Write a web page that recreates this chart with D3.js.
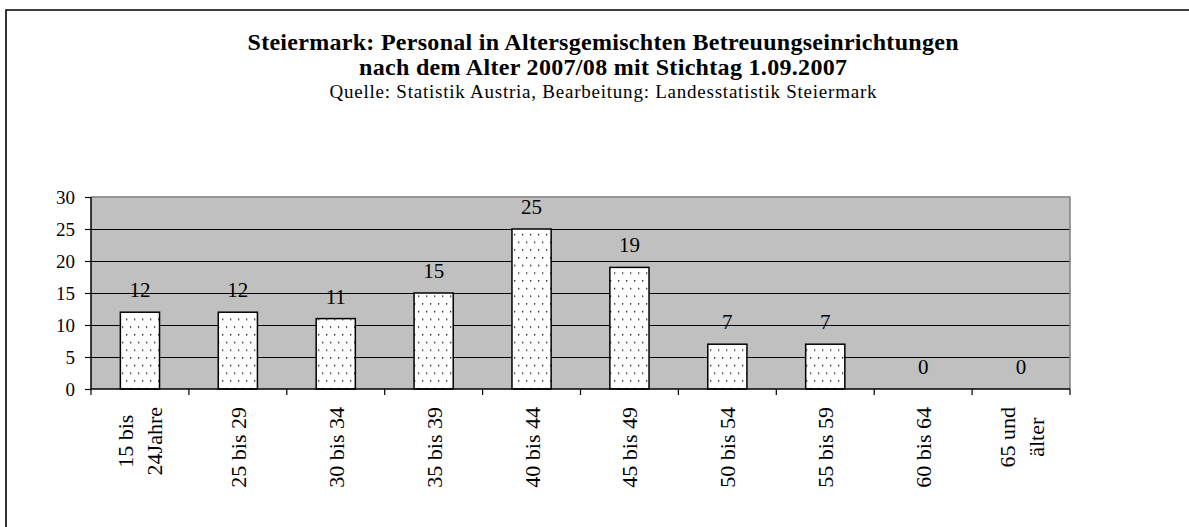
<!DOCTYPE html>
<html>
<head>
<meta charset="utf-8">
<script src="https://cdn.jsdelivr.net/npm/d3@7"></script>
<style>
  body { margin: 0; background: #fff; overflow: hidden; }
  svg text { font-family: "Liberation Serif", "Times New Roman", Times, serif; fill: #000; }
</style>
</head>
<body>
<div id="chart"></div>
<script>
// data
let categories = ["15 bis\n24Jahre", "25 bis 29", "30 bis 34", "35 bis 39", "40 bis 44",
                  "45 bis 49", "50 bis 54", "55 bis 59", "60 bis 64", "65 und\nälter"]
let values = [12, 12, 11, 15, 25, 19, 7, 7, 0, 0]
let yTicks = [0, 5, 10, 15, 20, 25, 30]
let titleLines = ["Steiermark: Personal in Altersgemischten Betreuungseinrichtungen",
                  "nach dem Alter 2007/08 mit Stichtag 1.09.2007"]
let subtitle = "Quelle: Statistik Austria, Bearbeitung: Landesstatistik Steiermark"

var W = 1189, H = 527
var plot = {left: 91, right: 1070, top: 197, bottom: 389}
var serif = "'Liberation Serif', 'Times New Roman', Times, serif"

var svg = d3.select("#chart").append("svg")
  .attr("width", W).attr("height", H)
  .style("font-family", serif)

// dotted fill for the bars
var pat = svg.append("defs").append("pattern")
  .attr("id", "dots")
  .attr("patternUnits", "userSpaceOnUse")
  .attr("width", 8).attr("height", 15.4)
pat.append("rect").attr("width", 8).attr("height", 15.4).attr("fill", "#fff")
pat.append("rect").attr("x", 2).attr("y", 3).attr("width", 1.3).attr("height", 1.3).attr("fill", "#000")
pat.append("rect").attr("x", 6).attr("y", 10.7).attr("width", 1.3).attr("height", 1.3).attr("fill", "#000")

// outer frame (only left / top visible in the picture)
svg.append("path")
  .attr("d", "M6," + H + "V10H" + W)
  .attr("fill", "none").attr("stroke", "#000").attr("stroke-width", 1.6)

// titles
var titleW = [711, 488]
titleLines.forEach(function(t, i) {
  svg.append("text")
    .attr("x", 603).attr("y", 50 + i * 25)
    .attr("text-anchor", "middle")
    .attr("textLength", titleW[i]).attr("lengthAdjust", "spacing")
    .style("font-family", serif)
    .style("font-size", "24px").style("font-weight", "bold")
    .text(t)
})
svg.append("text")
  .attr("x", 603).attr("y", 98)
  .attr("text-anchor", "middle")
  .attr("textLength", 547).attr("lengthAdjust", "spacing")
  .style("font-family", serif)
  .style("font-size", "19px")
  .text(subtitle)

var x = d3.scaleBand()
  .domain(categories)
  .range([plot.left, plot.right])
  .padding(0)

var y = d3.scaleLinear()
  .domain([0, 30])
  .range([plot.bottom, plot.top])

// plot background
svg.append("rect")
  .attr("x", plot.left).attr("y", plot.top)
  .attr("width", plot.right - plot.left).attr("height", plot.bottom - plot.top)
  .attr("fill", "#c0c0c0")

// gridlines
svg.append("g")
  .attr("transform", "translate(" + plot.left + ",0)")
  .call(d3.axisLeft(y).tickValues(yTicks.slice(1, -1)).tickSize(-(plot.right - plot.left)).tickFormat(""))
  .call(g => g.select(".domain").remove())
  .call(g => g.selectAll("line").attr("stroke", "#000").attr("stroke-width", 1))

// plot border top / right
svg.append("path")
  .attr("d", "M" + plot.left + "," + y(30) + "H" + plot.right + "V" + plot.bottom)
  .attr("fill", "none").attr("stroke", "#808080").attr("stroke-width", 1.5)

// bars
var bw = x.bandwidth() * 0.4
svg.append("g").selectAll("rect")
  .data(values)
  .join("rect")
  .attr("x", (d, i) => x(categories[i]) + (x.bandwidth() - bw) / 2)
  .attr("y", d => y(d))
  .attr("width", bw)
  .attr("height", d => y(0) - y(d))
  .attr("fill", "url(#dots)")
  .attr("stroke", "#000").attr("stroke-width", 1.5)
  .style("display", d => d > 0 ? null : "none")

// value labels
svg.append("g").selectAll("text")
  .data(values)
  .join("text")
  .attr("x", (d, i) => x(categories[i]) + x.bandwidth() / 2)
  .attr("y", d => y(d) - 15)
  .attr("text-anchor", "middle")
  .style("font-family", serif)
  .style("font-size", "21px")
  .text(d => d)

// y axis
var yAxis = svg.append("g")
  .attr("transform", "translate(" + plot.left + ",0)")
  .call(d3.axisLeft(y).tickValues(yTicks).tickSize(6).tickPadding(10))
yAxis.select(".domain").attr("d", "M0," + plot.top + "V" + plot.bottom).attr("stroke", "#000").attr("stroke-width", 1.5)
yAxis.selectAll("line").attr("stroke", "#000").attr("stroke-width", 1.2)
yAxis.selectAll("text")
  .style("font-family", serif)
  .style("font-size", "19px")

// x axis line and ticks at category boundaries
svg.append("line")
  .attr("x1", plot.left).attr("x2", plot.right)
  .attr("y1", plot.bottom).attr("y2", plot.bottom)
  .attr("stroke", "#000").attr("stroke-width", 1.5)
svg.append("g").selectAll("line")
  .data(categories.concat([null]))
  .join("line")
  .attr("x1", (d, i) => i < categories.length ? x(d) : plot.right)
  .attr("x2", (d, i) => i < categories.length ? x(d) : plot.right)
  .attr("y1", plot.bottom).attr("y2", plot.bottom + 6)
  .attr("stroke", "#000").attr("stroke-width", 1.2)

// rotated category labels
var labTop = 407, lineH = 29
categories.forEach(function(c) {
  var lines = c.split("\n")
  var g = svg.append("g")
    .attr("transform", "translate(" + (x(c) + x.bandwidth() / 2) + "," + labTop + ") rotate(-90)")
  var texts = lines.map(function(l, i) {
    return g.append("text")
      .attr("y", 8 + (i - (lines.length - 1) / 2) * lineH)
      .style("font-family", serif)
      .style("font-size", "22px")
      .text(l)
  })
  if (lines.length == 1) {
    texts[0].attr("text-anchor", "end")
  } else {
    var maxLen = d3.max(texts, t => t.node().getComputedTextLength())
    texts.forEach(t => t.attr("text-anchor", "middle").attr("x", -maxLen / 2))
  }
})
</script>
</body>
</html>
